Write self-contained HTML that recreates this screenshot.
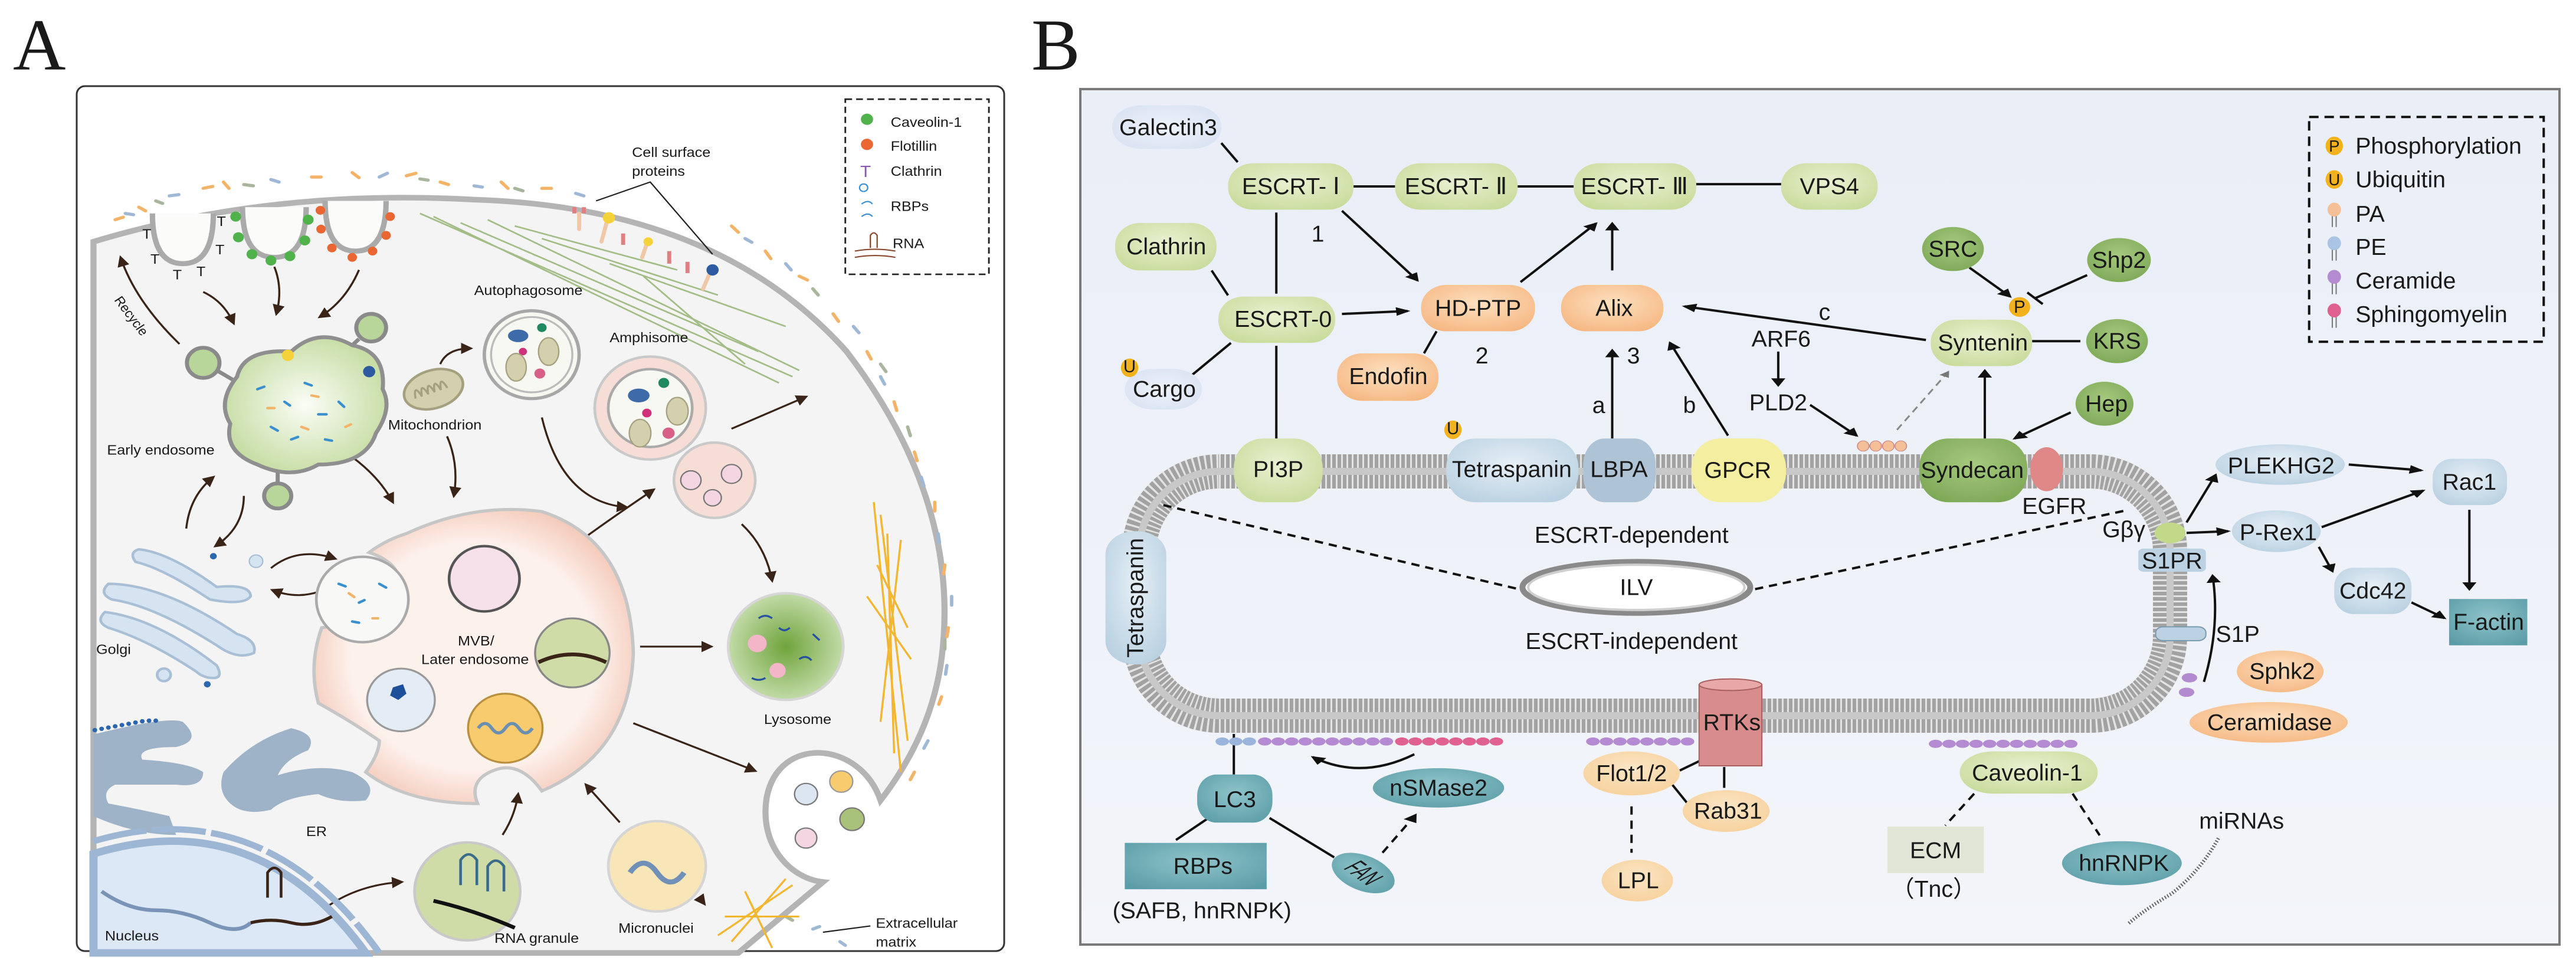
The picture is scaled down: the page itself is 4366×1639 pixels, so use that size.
<!DOCTYPE html>
<html><head><meta charset="utf-8">
<style>
html,body{margin:0;padding:0;background:#fff;}
svg{display:block;}
text{font-family:"Liberation Sans",Arial,sans-serif;fill:#1a1a1a;}
</style></head>
<body>
<svg width="4366" height="1639" viewBox="0 0 4366 1639" xmlns="http://www.w3.org/2000/svg">
<defs>
<marker id="ah" viewBox="0 0 10 10" refX="8" refY="5" markerWidth="5" markerHeight="5" orient="auto"><path d="M0,0 L10,5 L0,10 Z" fill="#111"/></marker>
<marker id="ab" viewBox="0 0 10 10" refX="8" refY="5" markerWidth="6" markerHeight="6" orient="auto"><path d="M0,0 L10,5 L0,10 Z" fill="#3a2418"/></marker>
<marker id="ag" viewBox="0 0 10 10" refX="8" refY="5" markerWidth="5" markerHeight="5" orient="auto"><path d="M0,0 L10,5 L0,10 Z" fill="#777"/></marker>
<linearGradient id="bgB" x1="0" y1="0" x2="0" y2="1"><stop offset="0" stop-color="#e9eef7"/><stop offset="1" stop-color="#f3f5fa"/></linearGradient>
<radialGradient id="gG" cx=".5" cy=".4" r=".7"><stop offset="0" stop-color="#e9f1d2"/><stop offset="1" stop-color="#c7da98"/></radialGradient>
<radialGradient id="gD" cx=".5" cy=".4" r=".7"><stop offset="0" stop-color="#a6c97e"/><stop offset="1" stop-color="#7aa653"/></radialGradient>
<radialGradient id="gO" cx=".5" cy=".4" r=".7"><stop offset="0" stop-color="#fde0c0"/><stop offset="1" stop-color="#f5b57e"/></radialGradient>
<radialGradient id="gL" cx=".5" cy=".4" r=".7"><stop offset="0" stop-color="#fbe6c6"/><stop offset="1" stop-color="#f6cf98"/></radialGradient>
<radialGradient id="gB" cx=".5" cy=".4" r=".7"><stop offset="0" stop-color="#e6eff6"/><stop offset="1" stop-color="#b7cfe0"/></radialGradient>
<radialGradient id="gT" cx=".5" cy=".4" r=".7"><stop offset="0" stop-color="#8fc3ca"/><stop offset="1" stop-color="#5b9da7"/></radialGradient>
<radialGradient id="gP" cx=".5" cy=".5" r=".7"><stop offset="0" stop-color="#eef3fb"/><stop offset="1" stop-color="#d6e0f1"/></radialGradient>
<radialGradient id="gEE" cx=".5" cy=".5" r=".6"><stop offset="0" stop-color="#fbfdf6"/><stop offset="1" stop-color="#bfd99a"/></radialGradient>
<radialGradient id="gLy" cx=".5" cy=".5" r=".6"><stop offset="0" stop-color="#6fa43c"/><stop offset="1" stop-color="#d3e6bd"/></radialGradient>
<radialGradient id="gMVB" cx=".5" cy=".5" r=".55"><stop offset="0.7" stop-color="#fdf1ec"/><stop offset="1" stop-color="#f3c7b6"/></radialGradient>
</defs>

<!-- Panel labels -->
<text x="22" y="118" font-family="Liberation Serif,serif" style="font-family:'Liberation Serif',serif" font-size="124">A</text>
<text x="1748" y="118" style="font-family:'Liberation Serif',serif" font-size="124">B</text>

<!-- ================= PANEL A ================= -->
<rect x="130" y="146" width="1572" height="1466" rx="14" fill="#fff" stroke="#333" stroke-width="3"/>
<g transform="scale(1.148,1.064)">
  <!-- cell -->
  <path d="M138,385 Q400,300 700,318 Q1060,330 1250,560 Q1420,800 1390,1050 Q1375,1170 1300,1275 C1270,1180 1150,1170 1132,1270 C1120,1350 1170,1400 1215,1405 L1090,1518 L138,1518 Z" fill="#f4f4f4" stroke="#b4b4b4" stroke-width="9"/>
  <!-- extracellular dashes -->
  <g stroke-width="5" stroke-linecap="round">
    <path d="M170,350 l12,-4 M205,330 l10,6 M300,300 l14,-3 M330,290 l8,10 M460,282 l14,0 M520,275 l10,8 M600,280 l14,-4 M650,290 l12,4 M740,290 l10,10 M800,300 l14,0 M1080,360 l10,10 M1130,400 l8,12 M1180,440 l12,6 M1230,500 l8,12 M1280,560 l6,12 M1320,640 l4,14 M1350,720 l4,14 M1380,800 l0,14 M1395,900 l-2,14 M1400,1000 l-2,14 M1390,1110 l-4,12 M1350,1230 l-6,12" stroke="#f3b46a"/>
    <path d="M185,340 l12,2 M250,312 l14,-2 M400,286 l12,4 M560,282 l12,-6 M700,296 l12,2 M850,308 l12,4 M1100,380 l10,6 M1160,420 l8,10 M1260,520 l8,10 M1300,600 l6,12 M1360,760 l4,14 M1385,850 l2,14 M1405,950 l0,14 M1398,1060 l-2,14 M1370,1180 l-6,12 M1200,1480 l10,-4 M1240,1500 l8,6" stroke="#9eb8d6"/>
    <path d="M230,320 l10,4 M360,294 l14,2 M620,285 l12,2 M760,300 l12,4 M1200,460 l8,10 M1300,580 l8,12 M1340,680 l4,14 M1395,1020 l0,14 M1160,1460 l10,6" stroke="#a9b59c"/>
  </g>
  <!-- green fibers -->
  <g stroke="#9ab87a" stroke-width="2.5" opacity=".9">
    <path d="M620,340 L1170,600 M640,345 L1150,610 M680,355 L1120,560 M720,350 L1180,590 M760,360 L1000,430 M800,380 L1060,470 M900,420 L1160,520 M950,440 L1100,580"/>
  </g>
  <!-- orange fibers -->
  <g stroke="#f2b630" stroke-width="3">
    <path d="M1290,800 L1330,1230 M1300,820 L1340,1180 M1310,850 L1320,1200 M1295,900 L1340,1000 M1330,860 L1300,1150 M1280,950 L1345,1050 M1060,1490 L1170,1410 M1080,1500 L1160,1400 M1070,1460 L1180,1460 M1100,1420 L1140,1510"/>
  </g>
  <!-- invaginations -->
  <g fill="#fbfcfa" stroke="#aaa" stroke-width="8">
    <path d="M225,340 Q225,420 270,420 Q315,420 315,340"/>
    <path d="M358,330 Q358,410 405,410 Q452,410 452,330"/>
    <path d="M480,320 Q480,400 525,400 Q570,400 570,320"/>
  </g>
  <g fill="#8a5aa8" font-size="22"><text x="210" y="380" fill="#8a5aa8">T</text><text x="222" y="420" fill="#8a5aa8">T</text><text x="255" y="445" fill="#8a5aa8">T</text><text x="290" y="440" fill="#8a5aa8">T</text><text x="318" y="405" fill="#8a5aa8">T</text><text x="320" y="360" fill="#8a5aa8">T</text></g>
  <g fill="#4fb24a"><circle cx="348" cy="345" r="8"/><circle cx="352" cy="378" r="8"/><circle cx="372" cy="405" r="8"/><circle cx="400" cy="415" r="8"/><circle cx="428" cy="408" r="8"/><circle cx="450" cy="383" r="8"/><circle cx="455" cy="350" r="8"/></g>
  <g fill="#ea6633"><circle cx="473" cy="335" r="7"/><circle cx="474" cy="365" r="7"/><circle cx="490" cy="395" r="7"/><circle cx="520" cy="410" r="7"/><circle cx="550" cy="400" r="7"/><circle cx="570" cy="375" r="7"/><circle cx="576" cy="345" r="7"/></g>
  <!-- surface proteins -->
  <g stroke-width="6" stroke-linecap="round">
    <path d="M855,365 v-25 M888,385 l10,-40 M948,410 l8,-25 M1038,460 l12,-30" stroke="#f0c8a8"/>
  </g>
  <circle cx="899" cy="347" r="9" fill="#f5d23a"/><circle cx="957" cy="385" r="7" fill="#f5d23a"/><circle cx="1052" cy="430" r="9" fill="#2d5aa0"/>
  <path d="M848,340 l0,-10 M862,340 l0,-10 M920,390 l0,-18 M988,420 l0,-20 M1015,435 l0,-18" stroke="#e07f82" stroke-width="6"/>
  <path d="M880,320 L960,290 L1052,405" fill="none" stroke="#222" stroke-width="2"/>
  <!-- arrows -->
  <g fill="none" stroke="#3a2418" stroke-width="3" marker-end="url(#ab)">
    <path d="M265,548 Q200,480 178,410"/>
    <path d="M300,465 Q330,480 345,515"/>
    <path d="M405,425 Q418,460 408,500"/>
    <path d="M530,430 Q510,480 472,505"/>
    <path d="M650,580 Q660,555 695,555"/>
    <path d="M520,728 Q560,760 580,800"/>
    <path d="M660,695 Q678,740 670,790"/>
    <path d="M800,665 Q830,800 925,808"/>
    <path d="M865,855 Q910,820 965,780"/>
    <path d="M1080,683 L1190,632"/>
    <path d="M1095,835 Q1130,870 1140,925"/>
    <path d="M945,1030 L1050,1030"/>
    <path d="M935,1152 L1115,1228"/>
    <path d="M1040,1440"/>
    <path d="M275,842 Q280,790 315,760"/>
    <path d="M360,790 Q360,840 318,870"/>
    <path d="M400,905 Q440,870 495,890"/>
    <path d="M495,930 Q450,960 402,940"/>
    <path d="M742,1330 Q760,1300 765,1265"/>
    <path d="M915,1310 Q890,1280 865,1250"/>
    <path d="M470,1455 Q520,1410 593,1405"/>
  </g>
  <path d="M1215,1485 L1285,1475" stroke="#222" stroke-width="2"/>
  <!-- early endosome -->
  <g fill="#b9d69a" stroke="#8a8a8a" stroke-width="6">
    <circle cx="548" cy="522" r="22"/><circle cx="300" cy="578" r="24"/><circle cx="410" cy="790" r="20"/>
    <path d="M530,540 L500,570 M320,590 L355,612 M410,770 L410,735" />
  </g>
  <path d="M350,600 Q360,555 430,560 Q470,520 520,550 Q570,560 565,620 Q580,650 555,690 Q540,740 470,740 Q430,765 380,740 Q330,720 340,675 Q320,640 350,600 Z" fill="url(#gEE)" stroke="#8f8f8f" stroke-width="6"/>
  <circle cx="425" cy="566" r="9" fill="#f5d23a"/><circle cx="545" cy="592" r="9" fill="#2d5aa0"/>
  <g stroke-width="4" stroke-linecap="round"><path d="M380,620 l10,-4 M420,640 l8,6 M450,610 l10,4 M470,660 l12,0 M400,680 l10,6 M500,640 l8,8 M430,700 l10,-4 M480,700 l10,2" stroke="#3a8fd0"/><path d="M395,650 l10,0 M445,680 l10,4 M510,680 l8,-4 M460,630 l10,2" stroke="#f3b46a"/></g>
  <text x="158" y="724" font-size="22">Early endosome</text>
  <text transform="translate(168,478) rotate(55)" font-size="20">Recycle</text>
  <!-- mitochondrion -->
  <ellipse cx="640" cy="620" rx="45" ry="30" transform="rotate(-20 640 620)" fill="#d4d0ad" stroke="#a5a080" stroke-width="4"/>
  <path d="M610,625 q5,-25 10,0 q5,-25 10,0 q5,-25 10,0 q5,-25 10,0 q5,-25 10,0" fill="none" stroke="#a5a080" stroke-width="3" transform="rotate(-20 640 620)"/>
  <text x="573" y="684" font-size="22">Mitochondrion</text>
  <!-- autophagosome -->
  <circle cx="785" cy="565" r="70" fill="#f8f8f2" stroke="#a7a7a7" stroke-width="5"/>
  <circle cx="785" cy="565" r="60" fill="#f8f8f2" stroke="#bbb" stroke-width="3"/>
  <ellipse cx="765" cy="535" rx="15" ry="10" fill="#3d6aa8"/><circle cx="800" cy="522" r="7" fill="#1e8a5e"/><circle cx="772" cy="560" r="6" fill="#d0307a"/>
  <ellipse cx="810" cy="560" rx="15" ry="22" fill="#d4d0ad" stroke="#a5a080" stroke-width="2"/><ellipse cx="762" cy="585" rx="15" ry="22" fill="#d4d0ad" stroke="#a5a080" stroke-width="2"/><circle cx="797" cy="595" r="8" fill="#d66088"/>
  <text x="700" y="470" font-size="22">Autophagosome</text>
  <!-- amphisome -->
  <circle cx="1055" cy="765" r="60" fill="#f6ddd5" stroke="#c9c9c9" stroke-width="4"/>
  <circle cx="960" cy="650" r="82" fill="#f6ddd5" stroke="#c9c9c9" stroke-width="4"/>
  <circle cx="960" cy="650" r="62" fill="#f8f8f2" stroke="#aaa" stroke-width="4"/>
  <ellipse cx="943" cy="630" rx="16" ry="11" fill="#3d6aa8"/><circle cx="980" cy="610" r="8" fill="#1e8a5e"/><circle cx="955" cy="658" r="7" fill="#d0307a"/>
  <ellipse cx="1000" cy="655" rx="16" ry="22" fill="#d4d0ad" stroke="#a5a080" stroke-width="2"/><ellipse cx="945" cy="690" rx="16" ry="22" fill="#d4d0ad" stroke="#a5a080" stroke-width="2"/><circle cx="987" cy="690" r="9" fill="#d66088"/>
  <circle cx="1020" cy="765" r="15" fill="#f3d6e2" stroke="#777" stroke-width="2"/><circle cx="1080" cy="755" r="15" fill="#f3d6e2" stroke="#777" stroke-width="2"/><circle cx="1052" cy="793" r="13" fill="#f3d6e2" stroke="#777" stroke-width="2"/>
  <text x="900" y="545" font-size="22">Amphisome</text>
  <!-- MVB -->
  <path d="M600,850 Q700,800 800,815 Q930,860 935,1040 Q930,1200 800,1260 Q770,1215 735,1225 Q690,1240 705,1280 Q600,1280 540,1230 Q560,1200 560,1180 Q520,1150 470,1120 Q455,1060 475,1000 Q540,990 590,950 Q600,900 545,880 Q570,860 600,850 Z" fill="url(#gMVB)" stroke="#c6c6c6" stroke-width="5"/>
  <circle cx="535" cy="955" r="68" fill="#f8f9f6" stroke="#aaa" stroke-width="4"/>
  <circle cx="715" cy="922" r="52" fill="#f6e0ea" stroke="#555" stroke-width="4"/>
  <circle cx="845" cy="1040" r="55" fill="#cfdca8" stroke="#888" stroke-width="3"/>
  <path d="M795,1055 Q845,1030 895,1055" fill="none" stroke="#3a2418" stroke-width="6"/>
  <circle cx="592" cy="1115" r="50" fill="#e4ecf6" stroke="#999" stroke-width="3"/>
  <polygon points="580,1095 595,1090 600,1105 588,1115 576,1108" fill="#1d4f9a"/>
  <circle cx="746" cy="1160" r="55" fill="#f8cb6e" stroke="#b89040" stroke-width="3"/>
  <path d="M706,1160 q10,-15 20,0 t20,0 t20,0 t20,0" fill="none" stroke="#6a8fb0" stroke-width="5"/>
  <g stroke-width="4" stroke-linecap="round"><path d="M500,930 l10,4 M530,960 l8,-4 M560,930 l10,6 M520,990 l10,2" stroke="#3a8fd0"/><path d="M515,945 l8,6 M550,985 l8,0" stroke="#f3b46a"/></g>
  <text x="676" y="1028" font-size="22">MVB/</text>
  <text x="622" y="1058" font-size="22">Later endosome</text>
  <!-- lysosome -->
  <circle cx="1160" cy="1030" r="85" fill="url(#gLy)" stroke="#d6d6d6" stroke-width="4"/>
  <circle cx="1118" cy="1025" r="14" fill="#f3b6c8"/><circle cx="1148" cy="1068" r="12" fill="#f3b6c8"/>
  <g stroke="#2750a0" stroke-width="3" fill="none"><path d="M1120,985 q10,-8 20,0 M1150,1000 q8,8 16,0 M1180,1050 q10,-8 18,2 M1110,1080 q10,6 20,0 M1200,1010 l10,10"/></g>
  <text x="1128" y="1153" font-size="22">Lysosome</text>
  <!-- EV pocket contents -->
  <circle cx="1190" cy="1265" r="17" fill="#dbe6f2" stroke="#777" stroke-width="2"/><circle cx="1242" cy="1245" r="17" fill="#f8cb6e" stroke="#999" stroke-width="2"/><circle cx="1258" cy="1305" r="18" fill="#a9c27a" stroke="#777" stroke-width="2"/><circle cx="1190" cy="1335" r="16" fill="#f3d6e2" stroke="#777" stroke-width="2"/>
  <text x="1293" y="1478" font-size="22">Extracellular</text><text x="1293" y="1508" font-size="22">matrix</text>
  <!-- Golgi -->
  <g fill="#d6e4f1" stroke="#a9bfd6" stroke-width="4">
    <path d="M205,875 Q250,880 320,935 Q370,930 370,950 Q360,965 310,955 Q240,905 200,895 Q190,880 205,875 Z"/>
    <path d="M160,930 Q240,930 350,1010 Q380,1020 375,1040 Q355,1050 330,1035 Q230,965 165,955 Q145,945 160,930 Z"/>
    <path d="M155,975 Q230,985 320,1060 Q330,1080 315,1080 Q300,1080 290,1070 Q220,1020 160,1000 Q140,990 155,975 Z"/>
    <circle cx="242" cy="1075" r="10"/>
  </g>
  <circle cx="315" cy="886" r="5" fill="#2b66b0"/><circle cx="306" cy="1090" r="5" fill="#2b66b0"/><circle cx="378" cy="894" r="10" fill="#d6e4f1" stroke="#a9bfd6" stroke-width="2"/>
  <text x="142" y="1042" font-size="22">Golgi</text>
  <!-- ER -->
  <g fill="#9fb3c8">
    <path d="M138,1170 Q250,1140 270,1150 Q300,1180 260,1190 Q200,1190 210,1210 Q280,1215 300,1230 Q300,1255 260,1250 L170,1250 Q150,1260 160,1280 Q210,1290 250,1300 L260,1330 Q200,1330 138,1300 Z"/>
    <path d="M330,1230 Q370,1180 430,1160 Q470,1170 455,1195 Q420,1210 410,1235 Q470,1215 520,1230 Q560,1250 540,1275 Q500,1280 470,1265 Q420,1270 400,1290 Q360,1300 340,1280 Q320,1260 330,1230 Z"/>
  </g>
  <g fill="#2b66b0"><circle cx="140" cy="1163" r="3.5"/><circle cx="150" cy="1161" r="3.5"/><circle cx="160" cy="1159" r="3.5"/><circle cx="170" cy="1157" r="3.5"/><circle cx="180" cy="1155" r="3.5"/><circle cx="190" cy="1153" r="3.5"/><circle cx="200" cy="1151" r="3.5"/><circle cx="210" cy="1149" r="3.5"/><circle cx="220" cy="1148" r="3.5"/><circle cx="230" cy="1148" r="3.5"/></g>
  <text x="452" y="1332" font-size="22">ER</text>
  <!-- nucleus -->
  <path d="M138,1360 Q380,1280 540,1518 L138,1518 Z" fill="#dce8f6" stroke="#9db6d4" stroke-width="12"/>
  <path d="M138,1340 Q390,1260 560,1518" fill="none" stroke="#9db6d4" stroke-width="10" stroke-dasharray="80 8"/>
  <path d="M150,1420 q40,30 80,30 t80,20 t60,0" fill="none" stroke="#7a94b8" stroke-width="6"/>
  <path d="M370,1470 q30,-8 60,0 t60,-10" fill="none" stroke="#3a2418" stroke-width="5"/>
  <path d="M395,1430 v-40 q10,-15 20,0 v40" fill="none" stroke="#3a2418" stroke-width="4"/>
  <text x="155" y="1498" font-size="22">Nucleus</text>
  <!-- RNA granule -->
  <circle cx="690" cy="1420" r="78" fill="#cfdca8" stroke="#c9c9c9" stroke-width="4"/>
  <path d="M640,1435 Q700,1450 760,1478" fill="none" stroke="#111" stroke-width="6"/>
  <path d="M680,1410 v-40 q12,-18 24,0 v40 M720,1420 v-40 q12,-18 24,0 v40" fill="none" stroke="#3a6c8a" stroke-width="4"/>
  <text x="730" y="1502" font-size="22">RNA granule</text>
  <!-- micronuclei -->
  <circle cx="970" cy="1380" r="72" fill="#f8e5b8" stroke="#d5d5d5" stroke-width="4"/>
  <path d="M930,1390 q20,-30 40,0 t40,0" fill="none" stroke="#7090b8" stroke-width="8"/>
  <text x="913" y="1486" font-size="22">Micronuclei</text>
  <!-- legend -->
  <rect x="1248" y="158" width="212" height="279" fill="#fff" stroke="#222" stroke-width="2.5" stroke-dasharray="10 6"/>
  <circle cx="1280" cy="190" r="9" fill="#4fb24a"/><circle cx="1280" cy="230" r="9" fill="#ea6633"/>
  <text x="1270" y="282" font-size="26" fill="#8a5aa8" style="fill:#8a5aa8">T</text>
  <path d="M1275,305 a6,6 0 1 1 0.1,0 M1272,325 q10,-8 16,0 M1272,345 q10,-8 16,0" fill="none" stroke="#3a8fd0" stroke-width="2"/>
  <path d="M1285,395 v-20 q5,-8 10,0 v20 M1262,400 q30,-6 60,0 M1262,410 q30,-6 60,0" fill="none" stroke="#8a4a30" stroke-width="2"/>
  <g font-size="22"><text x="1315" y="202">Caveolin-1</text><text x="1315" y="240">Flotillin</text><text x="1315" y="280">Clathrin</text><text x="1315" y="336">RBPs</text><text x="1318" y="395">RNA</text><text x="933" y="250">Cell surface</text><text x="933" y="280">proteins</text></g>
</g>

<!-- ================= PANEL B ================= -->
<rect x="1831" y="151" width="2507" height="1450" fill="url(#bgB)" stroke="#7a7a7a" stroke-width="4"/>

<!-- membrane (original coords) -->
<rect x="1931" y="799" width="1747" height="414" rx="135" fill="none" stroke="#a2a2a2" stroke-width="58"/>
<rect x="1931" y="799" width="1747" height="414" rx="135" fill="none" stroke="#f4f4f4" stroke-width="58" stroke-dasharray="3 6" opacity=".8"/>
<rect x="1931" y="799" width="1747" height="414" rx="135" fill="none" stroke="#c8c8c8" stroke-width="12"/>

<g transform="translate(1800,100) scale(1.636,0.982)">
  <!-- connectors -->
  <g fill="none" stroke="#111" stroke-width="4" vector-effect="non-scaling-stroke">
    <path vector-effect="non-scaling-stroke" d="M165,145 L182,178 M302,220 L345,220 M472,220 L530,220 M657,216 L745,216 M222,265 L222,405 M222,495 L222,655 M155,365 L172,408 M175,490 L135,545 M388,470 L375,508 M1005,487 L1055,487 M178,1165 L178,1235 M150,1312 L118,1348 M215,1310 L282,1378 M660,1212 L640,1228 M686,1222 L686,1258 M632,1252 L648,1285 M1062,373 L1008,413 M1000,403 L1016,423"/>
  </g>
  <g fill="none" stroke="#111" stroke-width="4" marker-end="url(#ah)">
    <path vector-effect="non-scaling-stroke" d="M290,262 L368,382"/>
    <path vector-effect="non-scaling-stroke" d="M290,440 L358,435"/>
    <path vector-effect="non-scaling-stroke" d="M475,385 L553,284"/>
    <path vector-effect="non-scaling-stroke" d="M570,365 L570,284"/>
    <path vector-effect="non-scaling-stroke" d="M570,655 L570,503"/>
    <path vector-effect="non-scaling-stroke" d="M690,650 L630,490"/>
    <path vector-effect="non-scaling-stroke" d="M895,485 L645,427"/>
    <path vector-effect="non-scaling-stroke" d="M742,505 L742,563"/>
    <path vector-effect="non-scaling-stroke" d="M775,597 L823,650"/>
    <path vector-effect="non-scaling-stroke" d="M940,360 L982,410"/>
    <path vector-effect="non-scaling-stroke" d="M956,655 L956,538"/>
    <path vector-effect="non-scaling-stroke" d="M1045,610 L987,655"/>
    <path vector-effect="non-scaling-stroke" d="M1165,800 L1195,718"/>
    <path vector-effect="non-scaling-stroke" d="M1165,818 L1208,815"/>
    <path vector-effect="non-scaling-stroke" d="M1333,700 L1408,710"/>
    <path vector-effect="non-scaling-stroke" d="M1305,808 L1410,745"/>
    <path vector-effect="non-scaling-stroke" d="M1302,842 L1316,884"/>
    <path vector-effect="non-scaling-stroke" d="M1398,938 L1432,965"/>
    <path vector-effect="non-scaling-stroke" d="M1458,778 L1458,915"/>
    <path vector-effect="non-scaling-stroke" d="M1183,1075 Q1200,980 1192,892"/>
    <path vector-effect="non-scaling-stroke" d="M365,1200 Q310,1245 260,1205"/>
  </g>
  <g fill="none" stroke="#111" stroke-width="4" stroke-dasharray="14 10">
    <path vector-effect="non-scaling-stroke" d="M105,770 L473,915 M718,915 L1100,780 M590,1290 L590,1370 M945,1268 L915,1323 M1047,1268 L1075,1340"/>
    <path vector-effect="non-scaling-stroke" d="M332,1370 L366,1305" marker-end="url(#ah)"/>
  </g>
  <path vector-effect="non-scaling-stroke" d="M865,640 L918,540" fill="none" stroke="#888" stroke-width="3" stroke-dasharray="12 8" marker-end="url(#ag)"/>

  <!-- top nodes -->
  <rect x="52" y="80" width="113" height="75" rx="30" ry="36" fill="url(#gP)"/>
  <rect x="172" y="180" width="130" height="80" rx="26" ry="38" fill="url(#gG)"/>
  <rect x="345" y="180" width="127" height="80" rx="26" ry="38" fill="url(#gG)"/>
  <rect x="530" y="180" width="127" height="80" rx="26" ry="38" fill="url(#gG)"/>
  <rect x="745" y="180" width="100" height="80" rx="26" ry="38" fill="url(#gG)"/>
  <rect x="55" y="283" width="105" height="82" rx="26" ry="38" fill="url(#gG)"/>
  <rect x="162" y="410" width="121" height="80" rx="26" ry="38" fill="url(#gG)"/>
  <rect x="65" y="535" width="80" height="70" rx="30" ry="35" fill="url(#gP)"/>
  <rect x="372" y="390" width="118" height="80" rx="26" ry="38" fill="url(#gO)"/>
  <rect x="285" y="508" width="105" height="82" rx="26" ry="38" fill="url(#gO)"/>
  <rect x="517" y="390" width="106" height="80" rx="26" ry="38" fill="url(#gO)"/>
  <ellipse cx="923" cy="328" rx="32" ry="38" fill="url(#gD)"/>
  <ellipse cx="1095" cy="347" rx="33" ry="38" fill="url(#gD)"/>
  <ellipse cx="1093" cy="487" rx="32" ry="38" fill="url(#gD)"/>
  <ellipse cx="1080" cy="595" rx="30" ry="38" fill="url(#gD)"/>
  <rect x="900" y="450" width="105" height="80" rx="26" ry="38" fill="url(#gG)"/>
  <ellipse cx="992" cy="428" rx="11" ry="17" fill="#f2b21e"/>
  <ellipse cx="70" cy="533" rx="9" ry="16" fill="#f2b21e"/>
  <ellipse cx="405" cy="640" rx="9" ry="16" fill="#f2b21e"/>

  <!-- PA lipids near PLD2 -->
  <g fill="#f5c098" stroke="#c88" stroke-width="1"><ellipse cx="830" cy="668" rx="6" ry="9"/><ellipse cx="843" cy="668" rx="6" ry="9"/><ellipse cx="856" cy="668" rx="6" ry="9"/><ellipse cx="869" cy="668" rx="6" ry="9"/></g>

  <!-- membrane proteins -->
  <rect x="178" y="655" width="92" height="110" rx="30" ry="50" fill="url(#gG)"/>
  <rect x="398" y="655" width="137" height="110" rx="30" ry="50" fill="url(#gB)"/>
  <rect x="540" y="655" width="75" height="110" rx="22" ry="45" fill="#aec3d6"/>
  <rect x="652" y="655" width="98" height="110" rx="30" ry="50" fill="#f3eea0"/>
  <rect x="888" y="655" width="112" height="110" rx="30" ry="50" fill="url(#gD)"/>
  <ellipse cx="1020" cy="708" rx="17" ry="38" fill="#e08888"/>
  <rect x="45" y="815" width="63" height="230" rx="30" ry="40" fill="url(#gB)"/>

  <!-- ILV -->
  <ellipse cx="595" cy="912" rx="118" ry="44" fill="#fff" stroke="#8a8a8a" stroke-width="10" vector-effect="non-scaling-stroke"/>
  <ellipse cx="595" cy="912" rx="112" ry="39" fill="#fff" stroke="#cfcfcf" stroke-width="4" vector-effect="non-scaling-stroke"/>

  <!-- right pathway -->
  <ellipse cx="1148" cy="818" rx="16" ry="18" fill="#c3d98a"/>
  <rect x="1115" y="845" width="70" height="40" rx="6" ry="6" fill="#bcd2e2"/>
  <ellipse cx="1262" cy="700" rx="67" ry="35" fill="url(#gB)"/>
  <ellipse cx="1258" cy="815" rx="46" ry="36" fill="url(#gB)"/>
  <rect x="1420" y="690" width="77" height="80" rx="20" ry="32" fill="url(#gB)"/>
  <rect x="1318" y="878" width="80" height="80" rx="20" ry="32" fill="url(#gB)"/>
  <rect x="1437" y="932" width="81" height="80" fill="url(#gT)"/>
  <rect x="1133" y="980" width="52" height="24" rx="8" ry="10" fill="#bcd2e2" stroke="#7a9ab0" stroke-width="2" vector-effect="non-scaling-stroke"/>
  <circle cx="1168" cy="1068" r="8" fill="#b28ad0"/><circle cx="1165" cy="1093" r="8" fill="#b28ad0"/>
  <ellipse cx="1262" cy="1057" rx="45" ry="36" fill="url(#gO)"/>
  <ellipse cx="1250" cy="1145" rx="82" ry="35" fill="url(#gO)"/>

  <!-- bottom lipid beads -->
  <g>
    <circle cx="166" cy="1178" r="7" fill="#9ab4dc"/><circle cx="180" cy="1178" r="7" fill="#9ab4dc"/><circle cx="194" cy="1178" r="7" fill="#9ab4dc"/>
    <g fill="#b48ad2"><circle cx="210" cy="1178" r="7"/><circle cx="224" cy="1178" r="7"/><circle cx="238" cy="1178" r="7"/><circle cx="252" cy="1178" r="7"/><circle cx="266" cy="1178" r="7"/><circle cx="280" cy="1178" r="7"/><circle cx="294" cy="1178" r="7"/><circle cx="308" cy="1178" r="7"/><circle cx="322" cy="1178" r="7"/><circle cx="336" cy="1178" r="7"/></g>
    <g fill="#e0608f"><circle cx="352" cy="1178" r="7"/><circle cx="366" cy="1178" r="7"/><circle cx="380" cy="1178" r="7"/><circle cx="394" cy="1178" r="7"/><circle cx="408" cy="1178" r="7"/><circle cx="422" cy="1178" r="7"/><circle cx="436" cy="1178" r="7"/><circle cx="450" cy="1178" r="7"/></g>
    <g fill="#b48ad2"><circle cx="550" cy="1178" r="7"/><circle cx="564" cy="1178" r="7"/><circle cx="578" cy="1178" r="7"/><circle cx="592" cy="1178" r="7"/><circle cx="606" cy="1178" r="7"/><circle cx="620" cy="1178" r="7"/><circle cx="634" cy="1178" r="7"/><circle cx="648" cy="1178" r="7"/>
    <circle cx="905" cy="1182" r="7"/><circle cx="919" cy="1182" r="7"/><circle cx="933" cy="1182" r="7"/><circle cx="947" cy="1182" r="7"/><circle cx="961" cy="1182" r="7"/><circle cx="975" cy="1182" r="7"/><circle cx="989" cy="1182" r="7"/><circle cx="1003" cy="1182" r="7"/><circle cx="1017" cy="1182" r="7"/><circle cx="1031" cy="1182" r="7"/><circle cx="1045" cy="1182" r="7"/></g>
  </g>

  <!-- RTKs cylinder -->
  <rect x="660" y="1080" width="65" height="140" fill="#d98c8c" stroke="#a86060" stroke-width="2" vector-effect="non-scaling-stroke"/>
  <ellipse cx="692.5" cy="1080" rx="32.5" ry="10" fill="#e8a8a8" stroke="#a86060" stroke-width="2" vector-effect="non-scaling-stroke"/>

  <!-- bottom nodes -->
  <rect x="140" y="1235" width="78" height="83" rx="20" ry="36" fill="url(#gT)"/>
  <rect x="65" y="1353" width="147" height="80" fill="url(#gT)"/>
  <ellipse cx="312" cy="1405" rx="26" ry="40" transform="rotate(-40 312 1405)" fill="url(#gT)"/>
  <ellipse cx="390" cy="1258" rx="68" ry="34" fill="url(#gT)"/>
  <ellipse cx="590" cy="1233" rx="50" ry="38" fill="url(#gL)"/>
  <ellipse cx="688" cy="1298" rx="45" ry="36" fill="url(#gL)"/>
  <ellipse cx="596" cy="1418" rx="37" ry="36" fill="url(#gL)"/>
  <rect x="930" y="1195" width="143" height="73" rx="35" ry="36" fill="url(#gG)"/>
  <rect x="855" y="1325" width="100" height="80" fill="#e2e6d6"/>
  <ellipse cx="1098" cy="1388" rx="62" ry="38" fill="url(#gT)"/>
  <path vector-effect="non-scaling-stroke" d="M1198,1345 Q1180,1400 1150,1440 Q1120,1470 1105,1492" fill="none" stroke="#666" stroke-width="6" stroke-dasharray="2 3"/>

  <!-- legend -->
  <rect x="1292" y="100" width="243" height="388" fill="none" stroke="#111" stroke-width="4" stroke-dasharray="16 10" vector-effect="non-scaling-stroke"/>
  <ellipse cx="1318" cy="150" rx="9" ry="16" fill="#f2b21e"/>
  <ellipse cx="1318" cy="208" rx="9" ry="16" fill="#f2b21e"/>
  <g stroke="#777" stroke-width="2" vector-effect="non-scaling-stroke"><path vector-effect="non-scaling-stroke" d="M1316,270 v20 M1320,270 v20 M1316,328 v20 M1320,328 v20 M1316,386 v20 M1320,386 v20 M1316,444 v20 M1320,444 v20"/></g>
  <ellipse cx="1318" cy="260" rx="7" ry="12" fill="#f5c098"/>
  <ellipse cx="1318" cy="318" rx="7" ry="12" fill="#a9c4e4"/>
  <ellipse cx="1318" cy="376" rx="7" ry="12" fill="#b48ad2"/>
  <ellipse cx="1318" cy="434" rx="7" ry="12" fill="#e0608f"/>

  <!-- text -->
  <g font-size="40" text-anchor="middle" dominant-baseline="central">
    <text transform="translate(110,118) scale(.6,1)">Galectin3</text>
    <text transform="translate(237,220) scale(.6,1)">ESCRT- Ⅰ</text>
    <text transform="translate(408,220) scale(.6,1)">ESCRT- Ⅱ</text>
    <text transform="translate(593,220) scale(.6,1)">ESCRT- Ⅲ</text>
    <text transform="translate(795,220) scale(.6,1)">VPS4</text>
    <text transform="translate(108,324) scale(.6,1)">Clathrin</text>
    <text transform="translate(229,449) scale(.6,1)">ESCRT-0</text>
    <text transform="translate(106,570) scale(.6,1)">Cargo</text>
    <text transform="translate(431,430) scale(.6,1)">HD-PTP</text>
    <text transform="translate(338,548) scale(.6,1)">Endofin</text>
    <text transform="translate(572,430) scale(.6,1)">Alix</text>
    <text transform="translate(265,302) scale(.6,1)">1</text>
    <text transform="translate(435,512) scale(.6,1)">2</text>
    <text transform="translate(592,512) scale(.6,1)">3</text>
    <text transform="translate(556,598) scale(.6,1)">a</text>
    <text transform="translate(650,598) scale(.6,1)">b</text>
    <text transform="translate(790,437) scale(.6,1)">c</text>
    <text transform="translate(745,483) scale(.6,1)">ARF6</text>
    <text transform="translate(742,593) scale(.6,1)">PLD2</text>
    <text transform="translate(923,328) scale(.6,1)">SRC</text>
    <text transform="translate(1095,347) scale(.6,1)">Shp2</text>
    <text transform="translate(992,428) scale(.6,1)" font-size="30">P</text>
    <text transform="translate(70,531) scale(.6,1)" font-size="30">U</text>
    <text transform="translate(405,638) scale(.6,1)" font-size="30">U</text>
    <text transform="translate(954,490) scale(.6,1)">Syntenin</text>
    <text transform="translate(1093,487) scale(.6,1)">KRS</text>
    <text transform="translate(1082,595) scale(.6,1)">Hep</text>
    <text transform="translate(224,708) scale(.6,1)">PI3P</text>
    <text transform="translate(466,708) scale(.6,1)">Tetraspanin</text>
    <text transform="translate(577,708) scale(.6,1)">LBPA</text>
    <text transform="translate(700,710) scale(.6,1)">GPCR</text>
    <text transform="translate(943,710) scale(.6,1)">Syndecan</text>
    <text transform="translate(1028,772) scale(.6,1)">EGFR</text>
    <text transform="translate(76,930) rotate(-90) scale(1,.6)">Tetraspanin</text>
    <text transform="translate(590,822) scale(.6,1)">ESCRT-dependent</text>
    <text transform="translate(595,912) scale(.6,1)">ILV</text>
    <text transform="translate(590,1005) scale(.6,1)">ESCRT-independent</text>
    <text transform="translate(1100,812) scale(.6,1)">Gβγ</text>
    <text transform="translate(1150,866) scale(.6,1)">S1PR</text>
    <text transform="translate(1263,702) scale(.6,1)">PLEKHG2</text>
    <text transform="translate(1260,817) scale(.6,1)">P-Rex1</text>
    <text transform="translate(1458,730) scale(.6,1)">Rac1</text>
    <text transform="translate(1358,918) scale(.6,1)">Cdc42</text>
    <text transform="translate(1478,972) scale(.6,1)">F-actin</text>
    <text transform="translate(1218,993) scale(.6,1)">S1P</text>
    <text transform="translate(1264,1057) scale(.6,1)">Sphk2</text>
    <text transform="translate(1251,1145) scale(.6,1)">Ceramidase</text>
    <text transform="translate(694,1145) scale(.6,1)">RTKs</text>
    <text transform="translate(179,1278) scale(.6,1)">LC3</text>
    <text transform="translate(146,1393) scale(.6,1)">RBPs</text>
    <text transform="translate(145,1470) scale(.6,1)">(SAFB, hnRNPK)</text>
    <text transform="translate(312,1405) rotate(50) scale(.6,1)" font-size="34">FAN</text>
    <text transform="translate(390,1258) scale(.6,1)">nSMase2</text>
    <text transform="translate(590,1233) scale(.6,1)">Flot1/2</text>
    <text transform="translate(690,1298) scale(.6,1)">Rab31</text>
    <text transform="translate(597,1418) scale(.6,1)">LPL</text>
    <text transform="translate(1000,1232) scale(.6,1)">Caveolin-1</text>
    <text transform="translate(905,1366) scale(.6,1)">ECM</text>
    <text transform="translate(903,1433) scale(.6,1)">（Tnc）</text>
    <text transform="translate(1100,1388) scale(.6,1)">hnRNPK</text>
    <text transform="translate(1222,1315) scale(.6,1)">miRNAs</text>
  </g>
  <g font-size="40" dominant-baseline="central">
    <text transform="translate(1340,150) scale(.6,1)">Phosphorylation</text>
    <text transform="translate(1340,208) scale(.6,1)">Ubiquitin</text>
    <text transform="translate(1340,268) scale(.6,1)">PA</text>
    <text transform="translate(1340,325) scale(.6,1)">PE</text>
    <text transform="translate(1340,383) scale(.6,1)">Ceramide</text>
    <text transform="translate(1340,441) scale(.6,1)">Sphingomyelin</text>
  </g>
  <g font-size="28" text-anchor="middle" dominant-baseline="central">
    <text transform="translate(1318,150) scale(.6,1)">P</text>
    <text transform="translate(1318,208) scale(.6,1)">U</text>
  </g>
</g>
</svg>
</body></html>
